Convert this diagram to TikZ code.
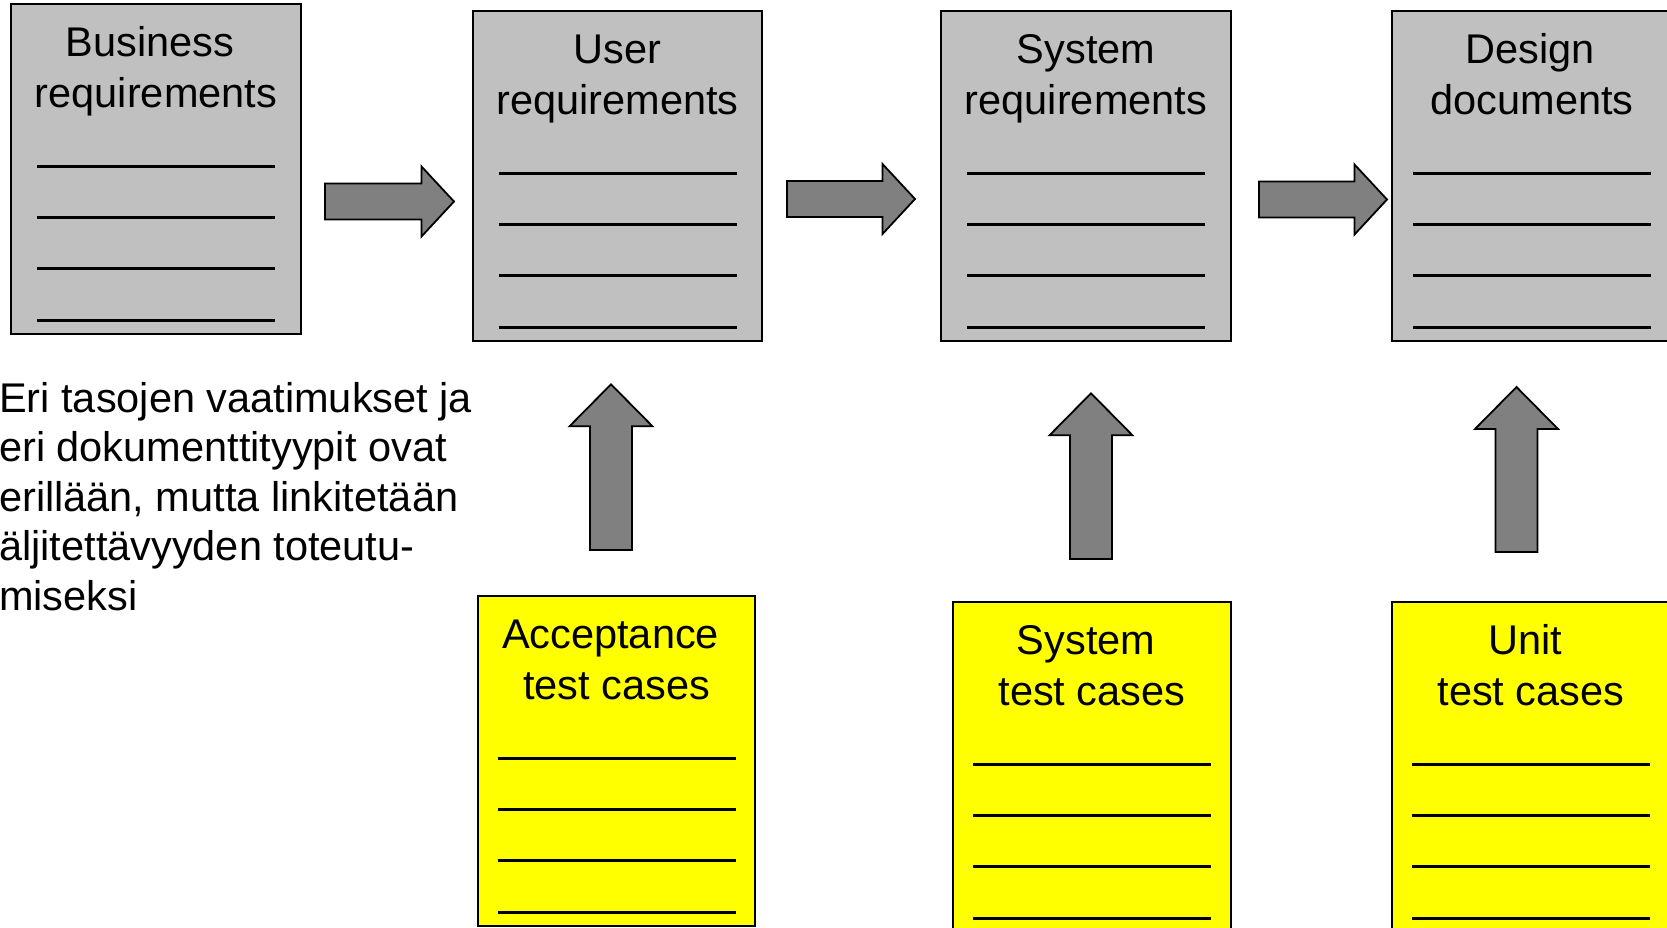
\documentclass[tikz,border=0pt]{standalone}
\usepackage{fontspec}
\setmainfont{Liberation Sans}
\usetikzlibrary{calc}
\definecolor{docgray}{HTML}{C0C0C0}
\definecolor{arrowgray}{HTML}{808080}
\definecolor{docyellow}{HTML}{FFFF00}
\newcommand\docrules[1]{%
  \foreach \dy in {162,213,264.5,316}{%
    \draw[rule] ($(#1.north)+(-119,\dy)$) -- ($(#1.north)+(119,\dy)$);}}
\newcommand\doctitle[4][0]{%
  \node[title] (#2t1) at ($(#2.north)+(#1,52.5)$) {#3};
  \node[title] (#2t2) at ($(#2.north)+(0,103.5)$) {#4};}
\newcommand\rightblock[2]{%
  \draw[blockarrow] ($(#1)+(0,-18)$) -- ($(#2)+(-32.5,-18)$) -- ($(#2)+(-32.5,-35)$) -- (#2)
    -- ($(#2)+(-32.5,35)$) -- ($(#2)+(-32.5,18)$) -- ($(#1)+(0,18)$) -- cycle;}
\newcommand\upblock[2]{%
  \draw[blockarrow] ($(#1)+(-21,0)$) -- ($(#2)+(-21,42)$) -- ($(#2)+(-41.5,42)$) -- (#2)
    -- ($(#2)+(41.5,42)$) -- ($(#2)+(21,42)$) -- ($(#1)+(21,0)$) -- cycle;}
\begin{document}
\begin{tikzpicture}[x=1pt,y=-1pt,
  doc/.style={draw=black, line width=2pt, inner sep=0pt, outer sep=0pt, minimum height=330pt},
  graydoc/.style={doc, fill=docgray},
  yellowdoc/.style={doc, fill=docyellow},
  title/.style={font=\fontsize{41.5}{50}\selectfont, anchor=base, inner sep=0pt},
  rule/.style={line width=3pt},
  blockarrow/.style={draw=black, line width=1.8pt, fill=arrowgray, line join=miter},
  note/.style={font=\fontsize{41.5}{49.6}\selectfont, anchor=base west, inner sep=0pt, align=left}
]
\useasboundingbox (0,0) rectangle (1667,927);
% requirement documents
\node[graydoc, minimum width=290pt] (br) at (156,169) {};
\node[graydoc, minimum width=289pt] (ur) at (617.5,176) {};
\node[graydoc, minimum width=290pt] (sr) at (1086,176) {};
\node[graydoc, minimum width=280pt] (dd) at (1532,176) {};
% test case documents
\node[yellowdoc, minimum width=277pt] (at) at (616.5,761) {};
\node[yellowdoc, minimum width=278pt] (st) at (1092,767) {};
\node[yellowdoc, minimum width=278pt] (ut) at (1531,767) {};
\foreach \d in {br,ur,sr,dd,at,st,ut}{\docrules{\d}}
\doctitle[-6]{br}{Business}{requirements}
\doctitle{ur}{User}{requirements}
\doctitle{sr}{System}{requirements}
\doctitle[-2]{dd}{Design}{documents}
\doctitle[-6]{at}{Acceptance}{test cases}
\doctitle[-6]{st}{System}{test cases}
\doctitle[-6]{ut}{Unit}{test cases}
% horizontal block arrows
\coordinate (a1s) at (325,201.5); \coordinate (a1e) at (454,201.5);
\coordinate (a2s) at (787,199);   \coordinate (a2e) at (915,199);
\coordinate (a3s) at (1259,199.5); \coordinate (a3e) at (1387,199.5);
\rightblock{a1s}{a1e}
\rightblock{a2s}{a2e}
\rightblock{a3s}{a3e}
% vertical block arrows
\coordinate (u1s) at (611,550);    \coordinate (u1e) at (611,384.3);
\coordinate (u2s) at (1091,559);   \coordinate (u2e) at (1091,393.3);
\coordinate (u3s) at (1516.5,552); \coordinate (u3e) at (1516.5,387);
\upblock{u1s}{u1e}
\upblock{u2s}{u2e}
\upblock{u3s}{u3e}
% note
\node[note] (note) at (-1,610.5) {Eri tasojen vaatimukset ja\\eri dokumenttityypit ovat\\erillään, mutta linkitetään\\äljitettävyyden toteutu-\\miseksi};
\end{tikzpicture}
\end{document}
